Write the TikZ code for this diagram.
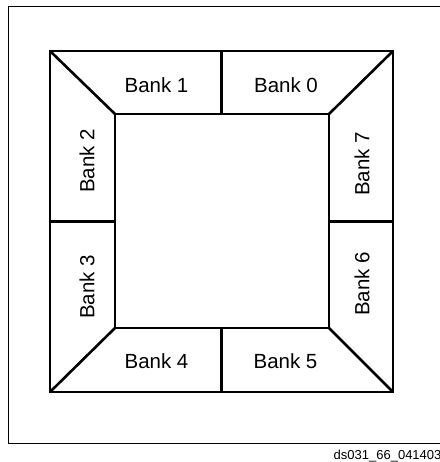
\documentclass[tikz,border=0pt]{standalone}
\usepackage{fontspec}
\setmainfont{Liberation Sans}
\begin{document}
\begin{tikzpicture}[x=1pt,y=-1pt,
  thick line/.style={line width=2.6pt, line join=miter},
  frame line/.style={line width=1pt},
  bank/.style={font=\fontsize{20.5}{24}\selectfont, inner sep=0pt},
  tag/.style={font=\fontsize{13}{15}\selectfont, inner sep=0pt, anchor=base west}]
\useasboundingbox (0,0) rectangle (439,462);
% outer frame
\draw[frame line] (8,7) rectangle (442,443);
% corner coordinates
\coordinate (OA) at (50,51);
\coordinate (OB) at (393,51);
\coordinate (OC) at (393,392);
\coordinate (OD) at (50,392);
\coordinate (IA) at (115,114);
\coordinate (IB) at (329,114);
\coordinate (IC) at (329,328);
\coordinate (ID) at (115,328);
\coordinate (MT) at (221.5,51);
\coordinate (MTi) at (221.5,114);
\coordinate (MB) at (221.5,392);
\coordinate (MBi) at (221.5,328);
\coordinate (ML) at (50,221.5);
\coordinate (MLi) at (115,221.5);
\coordinate (MR) at (393,221.5);
\coordinate (MRi) at (329,221.5);
\draw[thick line] (OA) rectangle (OC);
\draw[thick line] (IA) rectangle (IC);
\draw[thick line] (OA) -- (IA);
\draw[thick line] (OB) -- (IB);
\draw[thick line] (OC) -- (IC);
\draw[thick line] (OD) -- (ID);
\draw[thick line] (MT) -- (MTi);
\draw[thick line] (MB) -- (MBi);
\draw[thick line] (ML) -- (MLi);
\draw[thick line] (MR) -- (MRi);
% labels
\node[bank] (b1) at (156.5,85.5) {Bank 1};
\node[bank] (b0) at (286,85.5) {Bank 0};
\node[bank, rotate=90] (b2) at (87,161) {Bank 2};
\node[bank, rotate=90] (b3) at (87,287) {Bank 3};
\node[bank, rotate=90] (b7) at (362,164) {Bank 7};
\node[bank, rotate=90] (b6) at (362,284) {Bank 6};
\node[bank] (b4) at (156.5,361.5) {Bank 4};
\node[bank] (b5) at (285.5,361.5) {Bank 5};
\node[tag] (tg) at (333.5,459.7) {ds031\_66\_041403};
\end{tikzpicture}
\end{document}
